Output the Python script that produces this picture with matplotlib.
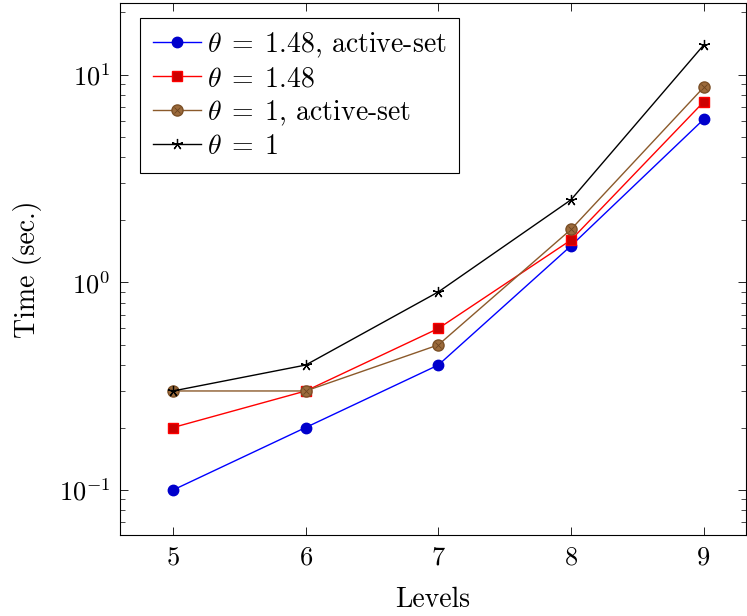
import matplotlib
matplotlib.use("Agg")
import matplotlib.pyplot as plt
from matplotlib.legend_handler import HandlerTuple
from matplotlib.ticker import LogLocator, NullFormatter

plt.rcParams['font.family'] = 'serif'
plt.rcParams['font.serif'] = ['cmr10']
plt.rcParams['mathtext.fontset'] = 'cm'
plt.rcParams['axes.formatter.use_mathtext'] = True

levels = [5, 6, 7, 8, 9]
t148_active = [0.1, 0.2, 0.4, 1.5, 6.1]
t148 = [0.2, 0.3, 0.6, 1.6, 7.4]
t1_active = [0.3, 0.3, 0.5, 1.8, 8.7]
t1 = [0.3, 0.4, 0.9, 2.5, 13.9]
labels = [r'$\theta\;=\;1.48$, active-set', r'$\theta\;=\;1.48$',
          r'$\theta\;=\;1$, active-set', r'$\theta\;=\;1$']

fig = plt.figure(figsize=(7.47, 6.16), dpi=100)
ax = fig.add_axes([120/747, 1-535/616, 626/747, 532/616])

h1, = ax.plot(levels, t148_active, color='blue', lw=1, marker='o', ms=7.5,
              mfc='#0000cc', mec='#0000cc')
h2, = ax.plot(levels, t148, color='red', lw=1, marker='s', ms=7,
              mfc='#cc0000', mec='red')
h3, = ax.plot(levels, t1_active, color='#8b5a2b', lw=1, marker='o', ms=8,
              mfc='#9c6b3c', mec='#7a4f26')
h3x, = ax.plot(levels, t1_active, ls='none', marker='x', ms=5,
               mec='#6b4420', mew=0.6)
h4, = ax.plot(levels, t1, color='black', lw=1, marker=(5, 2, 0), ms=8,
              mec='black', mew=0.9)

ax.set_yscale('log')
ax.set_xlim(4.6, 9.32)
ax.set_ylim(0.0607, 22.2)
ax.set_xticks(levels)
ax.yaxis.set_major_locator(LogLocator(base=10, numticks=10))
ax.yaxis.set_minor_locator(LogLocator(base=10, subs=range(2, 10), numticks=20))
ax.yaxis.set_minor_formatter(NullFormatter())
ax.tick_params(which='both', direction='in', top=True, right=True,
               labelsize=19)
ax.tick_params(which='major', length=6, width=0.6, pad=8)
ax.tick_params(axis='y', which='major', pad=7)
ax.tick_params(which='minor', length=3.5, width=0.5)
for s in ax.spines.values():
    s.set_linewidth(0.8)

ax.set_xlabel('Levels', fontsize=20, labelpad=12)
ax.set_ylabel('Time (sec.)', fontsize=20, labelpad=12)

leg = ax.legend([h1, h2, (h3, h3x), h4], labels, loc='upper left',
                bbox_to_anchor=(0.032, 0.972), fontsize=20, frameon=True,
                fancybox=False, edgecolor='black', framealpha=1,
                handlelength=1.75, handletextpad=0.2, borderpad=0.45,
                labelspacing=0.22, borderaxespad=0,
                handler_map={tuple: HandlerTuple(ndivide=1, pad=0)})
leg.get_frame().set_linewidth(0.8)

fig.savefig('out.png', dpi=100)
